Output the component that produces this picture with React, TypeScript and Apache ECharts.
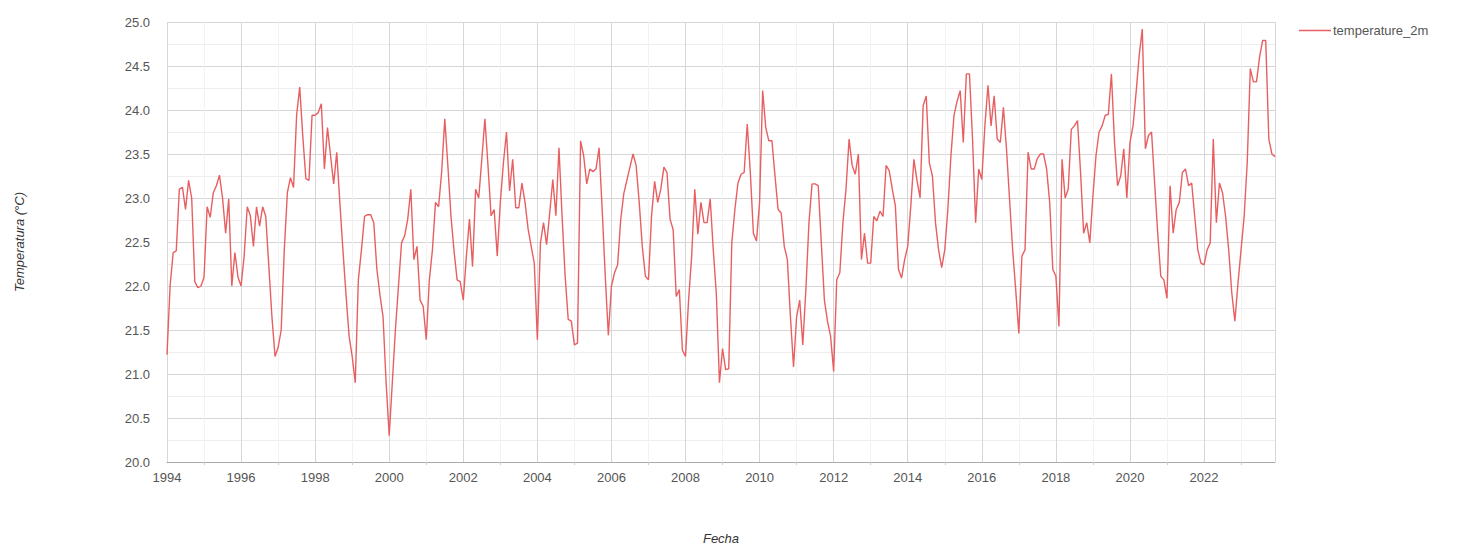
import React, { useEffect, useRef } from "react";
import * as echarts from "echarts";

const startYear = 1994;
const seriesName = "temperature_2m";
const yTicks = [20, 20.5, 21, 21.5, 22, 22.5, 23, 23.5, 24, 24.5, 25];

// Monthly values, Jan 1994 .. Dec 2003
const values1994to2003 = [
  21.22, 22.0, 22.38, 22.4, 23.1, 23.12, 22.87, 23.2, 23.0, 22.05, 21.98, 22.0,
  22.1, 22.9, 22.78, 23.06, 23.14, 23.26, 23.0, 22.6, 22.99, 22.0, 22.38, 22.1,
  22.0, 22.34, 22.9, 22.8, 22.45, 22.9, 22.68, 22.9, 22.79, 22.22, 21.65, 21.2,
  21.3, 21.5, 22.41, 23.06, 23.23, 23.12, 23.94, 24.26, 23.7, 23.22, 23.2, 23.94,
  23.94, 23.97, 24.07, 23.33, 23.8, 23.48, 23.16, 23.52, 22.95, 22.41, 21.9, 21.43,
  21.2, 20.9, 22.07, 22.41, 22.79, 22.81, 22.81, 22.72, 22.19, 21.9, 21.65, 20.9,
  20.3, 20.9, 21.5, 22.0, 22.49, 22.57, 22.76, 23.1, 22.3, 22.45, 21.84, 21.77,
  21.39, 22.07, 22.41, 22.95, 22.9, 23.3, 23.9, 23.37, 22.8, 22.4, 22.07, 22.05,
  21.84, 22.34, 22.76, 22.22, 23.1, 23.0, 23.44, 23.9, 23.37, 22.8, 22.87, 22.34,
  22.95, 23.4, 23.75, 23.08, 23.44, 22.89, 22.89, 23.17, 22.95, 22.65, 22.45, 22.26,
];

// Monthly values, Jan 2004 .. Dec 2013
const values2004to2013 = [
  21.39, 22.49, 22.72, 22.47, 22.83, 23.21, 22.8, 23.57, 22.8, 22.11, 21.62, 21.6,
  21.33, 21.35, 23.65, 23.48, 23.16, 23.33, 23.3, 23.33, 23.57, 22.87, 22.11, 21.44,
  22.0, 22.15, 22.24, 22.75, 23.05, 23.2, 23.35, 23.5, 23.37, 22.95, 22.45, 22.11,
  22.07, 22.8, 23.19, 22.95, 23.1, 23.35, 23.29, 22.76, 22.64, 21.88, 21.96, 21.27,
  21.2, 21.84, 22.34, 23.1, 22.59, 22.95, 22.72, 22.72, 22.99, 22.41, 21.9, 20.9,
  21.29, 21.05, 21.06, 22.49, 22.87, 23.17, 23.27, 23.29, 23.84, 23.29, 22.6, 22.51,
  22.95, 24.22, 23.8, 23.65, 23.65, 23.25, 22.87, 22.83, 22.45, 22.3, 21.65, 21.08,
  21.65, 21.84, 21.33, 21.96, 22.72, 23.16, 23.16, 23.14, 22.49, 21.84, 21.6, 21.43,
  21.03, 22.07, 22.15, 22.72, 23.1, 23.67, 23.37, 23.27, 23.5, 22.3, 22.6, 22.26,
  22.26, 22.79, 22.74, 22.85, 22.79, 23.37, 23.31, 23.1, 22.91, 22.19, 22.09, 22.3,
];

// Monthly values, Jan 2014 .. Dec 2023
const values2014to2023 = [
  22.45, 22.91, 23.44, 23.2, 23.0, 24.05, 24.16, 23.4, 23.25, 22.72, 22.41, 22.21,
  22.41, 22.87, 23.48, 23.94, 24.1, 24.22, 23.63, 24.41, 24.41, 23.67, 22.72, 23.33,
  23.21, 23.82, 24.28, 23.82, 24.16, 23.67, 23.63, 24.03, 23.56, 22.98, 22.41, 21.95,
  21.46, 22.34, 22.41, 23.52, 23.33, 23.33, 23.45, 23.5, 23.5, 23.33, 22.95, 22.19,
  22.11, 21.54, 23.44, 23.0, 23.1, 23.78, 23.82, 23.88, 23.29, 22.6, 22.72, 22.49,
  23.02, 23.48, 23.75, 23.82, 23.94, 23.95, 24.41, 23.63, 23.14, 23.25, 23.56, 23.0,
  23.63, 23.82, 24.2, 24.62, 24.92, 23.56, 23.71, 23.75, 23.17, 22.6, 22.11, 22.07,
  21.86, 23.14, 22.6, 22.87, 22.95, 23.29, 23.33, 23.14, 23.17, 22.79, 22.41, 22.26,
  22.24, 22.41, 22.49, 23.67, 22.72, 23.17, 23.06, 22.79, 22.41, 21.92, 21.6, 22.03,
  22.41, 22.79, 23.4, 24.47, 24.32, 24.32, 24.6, 24.79, 24.79, 23.67, 23.5, 23.47,
];

const allValues = [...values1994to2003, ...values2004to2013, ...values2014to2023];
const points = allValues.map((v, i) => [startYear + i / 12, v]);
const endYear = startYear + (allValues.length - 1) / 12;

export default function App() {
  const ref = useRef<HTMLDivElement>(null);
  useEffect(() => {
    if (!ref.current) return;
    const chart = echarts.init(ref.current, undefined, { renderer: "svg" });
    const font = "Liberation Sans, Arial, sans-serif";
    chart.setOption({
      animation: false,
      backgroundColor: "#ffffff",
      textStyle: { fontFamily: font },
      grid: { left: 167, right: 201, top: 22, bottom: 87, containLabel: false, outerBoundsMode: "none" },
      legend: {
        data: [seriesName],
        left: 1294,
        top: 19,
        icon: "rect",
        itemWidth: 32,
        itemHeight: 1.5,
        itemGap: 8,
        textStyle: { color: "#555", fontSize: 13, fontFamily: font, padding: [0, 0, 0, -3] },
      },
      xAxis: {
        type: "value",
        min: startYear,
        max: endYear,
        interval: 2,
        name: "Fecha",
        nameLocation: "middle",
        nameGap: 70,
        nameTextStyle: { fontStyle: "italic", color: "#333", fontSize: 13, fontFamily: font },
        axisLine: { show: true, lineStyle: { color: "#aaa", width: 1 } },
        axisTick: { show: false },
        minorTick: { show: true, splitNumber: 2, length: 3, lineStyle: { color: "#ccc" } },
        axisLabel: {
          color: "#555",
          fontSize: 13,
          margin: 9,
          fontFamily: font,
          formatter: (v: number) => (Math.abs(v - Math.round(v)) < 1e-6 ? String(Math.round(v)) : ""),
        },
        splitLine: { show: true, lineStyle: { color: "#d6d6d6", width: 1 } },
        minorSplitLine: { show: true, lineStyle: { color: "#f2f2f2", width: 1 } },
      },
      yAxis: {
        type: "value",
        min: yTicks[0],
        max: yTicks[yTicks.length - 1],
        interval: 0.5,
        name: "Temperatura (°C)",
        nameLocation: "middle",
        nameGap: 141,
        nameTextStyle: { fontStyle: "italic", color: "#333", fontSize: 13, fontFamily: font },
        axisLine: { show: false },
        axisTick: { show: false },
        minorTick: { show: false, splitNumber: 2 },
        axisLabel: {
          color: "#555",
          fontSize: 13,
          margin: 17,
          fontFamily: font,
          formatter: (v: number) => v.toFixed(1),
        },
        splitLine: { show: true, lineStyle: { color: "#d6d6d6", width: 1 } },
        minorSplitLine: { show: true, lineStyle: { color: "#eeeeee", width: 1 } },
      },
      series: [
        {
          name: seriesName,
          type: "line",
          data: points,
          showSymbol: false,
          symbol: "none",
          color: "#e85f61",
          lineStyle: { color: "#e85f61", width: 1.4 },
        },
      ],
    });
    return () => chart.dispose();
  }, []);
  return <div ref={ref} style={{ position: "fixed", left: 0, top: 0, width: 1476, height: 549 }} />;
}
